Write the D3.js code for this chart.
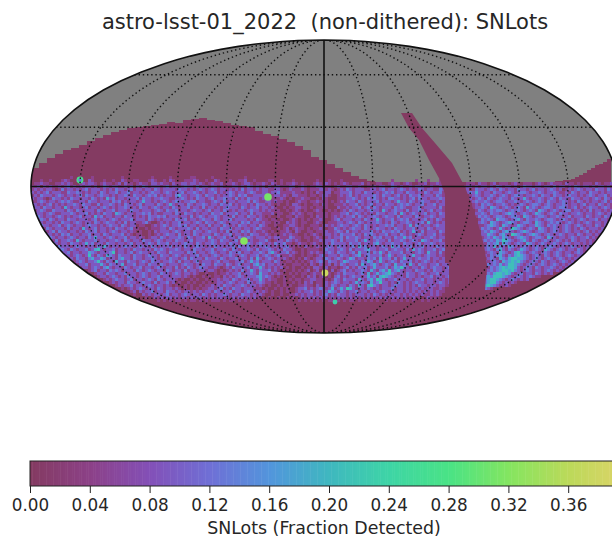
<!DOCTYPE html>
<html>
<head>
<meta charset="utf-8">
<script src="https://cdnjs.cloudflare.com/ajax/libs/d3/7.8.5/d3.min.js"></script>
<style>
  html, body { margin: 0; padding: 0; background: #fff; overflow: hidden; }
  text { font-family: "DejaVu Sans", sans-serif; fill: #262626; }
</style>
</head>
<body>
<svg id="skymap" width="612" height="538"></svg>
<script>
// colour bar
let barStops = [0, 0.04, 0.08, 0.12, 0.16, 0.20, 0.24, 0.28, 0.32, 0.36, 0.40];
let barColors = ["#843b62", "#8c4188", "#8350b8", "#6f70d6", "#5296dc", "#3fb8bf", "#3ed5a5", "#4ae385", "#85e560", "#bcd95a", "#e0d36a"];
let barTicks = [0, 0.04, 0.08, 0.12, 0.16, 0.20, 0.24, 0.28, 0.32, 0.36];

// fraction detected for each digit used in the rows below
let levelValues = [0, 0.045, 0.09, 0.13, 0.175, 0.21];

// top edge of the observed footprint, in grid cols / rows
let northCols = [0, 2, 4, 6, 8, 10, 12, 14, 16, 18, 20, 22, 24, 26, 28, 30, 32, 34, 36, 38, 40, 42, 44, 46, 48, 50, 52, 54, 56, 58, 60, 62, 64, 66, 68, 70, 72, 74, 76, 78, 80, 82, 84, 86, 131, 133, 135, 136, 137, 138, 139, 140, 141, 142, 143, 144, 145];
let northRows = [-2, -3.25, -4.5, -5.5, -6.5, -7, -7.75, -8.75, -9.5, -10.25, -11, -11.5, -12, -12.25, -12.5, -12.75, -13, -13.5, -13.25, -14, -14.25, -14.5, -14, -13.75, -13.25, -12.75, -12.5, -12.25, -11.25, -10.5, -10, -9.25, -8.5, -7.5, -6.5, -4.75, -4, -3, -2, -1, 0, 0.75, 1.25, 1.5, 1.25, 1, 0.75, 0.25, -0.25, -0.75, -1.5, -2, -2.75, -3, -3.5, -4.25, -4.5];

// galactic plane wedge, left side going down then right side going up
let planeCols = [92.5, 94.5, 97, 99.5, 102.25, 104, 104.75, 104.5, 104.5, 104.5, 104.5, 113.5, 113.5, 114, 113.25, 111.5, 109.75, 108.5, 105.25, 101, 97.75, 95.25];
let planeRows = [-15.75, -12, -9, -4, 1, 6, 11, 17.25, 22.25, 28.5, 31.25, 31.25, 28.5, 22.25, 17.25, 11, 6, 2.75, -3.25, -8.25, -12, -15.75];

// the few bright fields
let spotCols = [12.25, 59.25, 53.25, 73.5, 76];
let spotRows = [1, 5.25, 16.25, 24.25, 31.5];
let spotValues = [0.27, 0.31, 0.32, 0.38, 0.23];
let spotCores = [0.14, 0.31, 0.32, 0.38, 0.23];
let spotSizes = [2.6, 3, 3, 2.6, 1.6];

// per-cell levels, west of the plane
let westRows = [
"000000000000010000001000000000100000000010000010000001100000100000000001000000000000000000000000000000000000000000000000000000000000000000",
"000100100012100110021000100100210011000121001021000111210010021000100112001000011001000100000001000100010000000000000000100000001000100010",
"011211001121210012122101211012021101211022121102112212212101211201121012210112102101011210100012102101012101112010011001211012100112011210",
"112021211212312121221201321221121202132122212312212322131221221211122121321212021221112201210112211101211221121011212211321211212221121121",
"121212210131221212312221212132212312212213212222132212123212321221212131221212211221012111210111221210121321222112212312212321211321221132",
"212123122211322321212213212231223122121232212321223122321212231212321221232112212231111211010102112201122231221322121232312213221213212231",
"121322212321221231322123221212232132212323121221342212232132212122321323112222131221210221110110122100121231212222321322123121322312221321",
"212210132212132212213212142312212223132212232211223212132212312232213121322212231112101011211001021000111223212132321213322121231322122232",
"112321221232321122132212221323121221242212123212321223312211232131221222313211221211010012110112111010121322132122231222124221321232211212",
"221212312121223213221131223212132212312221321242122132122321221322312122121322121010010221010011021001112122312123122132212323212231223122",
"122132212214212212312212321212232121322123212213212231221312212123222132122312212100101122110101111000211212231231321222132321122312222131",
"212321132221321321222132122312221322122212321322312212322123122132121221232212121110010121010012100101012132122123221421232213122321231221",
"122212321122232122312121322143212212232312112221321322121221322312223122131221112011001212101101111011122312321212132212231421232123122132",
"213212212321212231221423122122132212121322323122212213123212232122131221322121010010011021100102111012121223132122321232213122213212232122",
"122321321221322122212312212321222312221321212221322312212322132122312222121321101101001210101011210012312221221321242122312323122123121321",
"231212212132212321221321232212131221123100121212231221232132212321222132312212110110021210110012100111221232132122232121321223212231421212",
"121322122312321221232212123221321220110012123212232312212213122132121322122132100100112210100111012121232212321321212232312212413212212322",
"212213212221312214212312212132212311001011122132122232131221221322312212212321110010120121101011210113212123221321232212132212231221321222",
"321221231322122121322312212321221210100102122212321221322123221213122132312112101001121021001101112112321312212223121322323121242131222132",
"122312212132312212231221321222312101100101212322131221321222132122312212132211210101212110010121012212132223121323212231221321212321223121",
"000212321221232122132422123212231221210122132122232132122314212231221322321222121221113211011012101212231322321221323122132242312212232122",
"000012213122321421222312212232132122132212321221322123122212321322123123121122310122132121001011212232131222312421232213122321232143212231",
"000001232122132212423122132212212312212321322312212322132122321221322121321232121322311012110121012132222132231221342122322132212312232122",
"000000211322212322122132421221232212322132122231221321232212132212231322312122321212231101021012112321322123142312212321423122312231221322",
"000000012232132122312452122312212132212213232122321221322122312232132122321312232121322100101111013221232131222342212231232213142321223123",
"000000000122312212243212223512212312322121322132222132312212321221322312212232134212231210101212112321322123142231324213222312212321422131",
"000000000012212321252132143213222132212322132212321212231221232122321232122312321231112100101101231222132212341232223124212231242212322121",
"000000000000121322134224312213422132212232122132212313222132221321223122131421232121210101021012213212321243122132314223131242212322312212",
"000000000000021232122352132142213221232132212232131221231222123122112231242312221321011010101212321322124322213243124212321322312123212122",
"00000000000000012231222421322241223122132213212221232212132213221321231221342312212110011101021021120213212231422342123214223142132212231221212",
"00000000000000001221232134212213212231221232122131213212322112101213222231224212121201010010102210201101231213231242223124353212213212322123122",
"00000000000000000001231221323212221321232122132122131221221221010121213124213223121010010101201201102012312122321421342523421221322121322122121",
"00000000000000000000012213221223122123212213221232122121001001011212231223214221212100101011012110210121322212314124234532121322123212231222121",
"00000000000000000000001221232121322123212231221222121010010101102121232122234232101010010010212012010231212322124231454321221322121223122123211",
"00000000000000000000000012123221231221232132122210100101001011212213212231224212110010101101122110101321322214213425421223122121223122121212211",
"00000000000000000000000000121221322123221312231201001010010101221232122132123211010010010102120110212321221242321423522121321212322122123212121",
"00000000000000000000000000001212231221232122121010010100101121213221223212212101001010100112110210213212213214214532122123221212132212212211212",
"000000000000000000000000000000101212321221321221210101010112212312132212221110100101010012231212321241242542122132121222312212122121221121",
"000000000000000000000000000000000120212231221322121221212122132122312212321212101001010012122312122432132122312212212321212212121212121211",
"000000000000000000000000000000000010021212212312212321221321212232122132212121001001001121212212123121322121222121321212122121212121121210",
"000000000000000000000000000000000000001012121221212212122121212212121221212110010010010101212121212121222121212121212121212121121101211100",
"000000000000000000000000000000000000000000101010110101101010111010110101010000000000000001010101010110101011010101010010110101010010100000"
];

// per-cell levels, east of the plane
let eastRows = [
"",
"",
"01110211012011101210111012101211102110101110210112",
"12212122121321221201322122122131221213212212122121",
"12013221232132122132212312212321201212321221322132",
"12324212213221232123321223212232112132122132212122",
"10123212232123212332122321322132212322121232122312",
"00212321321232213212421223212321322132212212321321",
"00123223212332122321232123213221232121321212212312",
"00012132321223212123212332123212232122123122132121",
"00012232143212321232142321233212332123121232212321",
"00001321232332123232123214321232123312212131221212",
"00002232132212343212321243212321322122321221232122",
"00001323212332123321432123321223212312221321221321",
"00000132321433212342132232123321232121232122312212",
"00000232143212343212332143212323212321212321221211",
"00000112343214321243212243213232123212321221321210",
"00000132321242125432123214321232123212132122212121",
"00000023243213432123432123321232123212212312122112",
"00000022432134215432123432123212321221321221212101",
"00000012324324321234321233214321221232122312121212",
"00000023232435432123421321232123212132122121212101",
"00000021323414321232143212321232123212212121210",
"00000002324132143212321232123321221232121221221",
"00000012321342132124321232143212321221321212121",
"00000001232143212453212321232123212212321211212",
"00000002132342132454321232132123212321221212121",
"00000001232143245544321232123212321212212121",
"00000002123214345453212321321221232121221211",
"0000000132324235543212321232123212121211",
"00000002132345455421232132122321212111",
"0000000123234554532123212212321212",
"000000213245545421231221321212",
"00000023435554321232123211",
"0000002345543212321212",
"000000134553212121",
"0000013454321121",
"0000024321",
"00012",
"",
"",
""
];

let svg = d3.select("svg#skymap");

// mollweide, d3 core has no such projection so the raw function lives here
function mollweideRaw(lambda, phi) {
  let theta = phi;
  for (let i = 0; i < 30; i++) {
    let delta = (2 * theta + Math.sin(2 * theta) - Math.PI * Math.sin(phi)) / (2 + 2 * Math.cos(2 * theta));
    if (!isFinite(delta)) break;
    theta = theta - delta;
    if (Math.abs(delta) < 1e-7) break;
  }
  return [2 * Math.SQRT2 / Math.PI * lambda * Math.cos(theta), Math.SQRT2 * Math.sin(theta)];
}
let projection = d3.geoProjection(mollweideRaw).scale(103.6).translate([324, 186.5]).precision(0.2);
let geoPath = d3.geoPath(projection);

// outlines are in 4px grid units, the cell rows are on a 3px grid
let gridX = d3.scaleLinear().domain([0, 145]).range([31, 611]);
let gridY = d3.scaleLinear().domain([0, 31]).range([176, 300]);
let cellX = d3.scaleLinear().domain([0, 145]).range([31, 466]);
let cellY = d3.scaleLinear().domain([0, 42]).range([176, 302]);
let colorScale = d3.scaleLinear().domain(barStops).range(barColors);

let defs = svg.append("defs");
defs.append("clipPath").attr("id", "skyClip").append("path").attr("d", geoPath({ type: "Sphere" }));
defs.append("filter").attr("id", "soft").attr("filterUnits", "userSpaceOnUse")
  .attr("x", 0).attr("y", 0).attr("width", 640).attr("height", 400)
  .append("feGaussianBlur").attr("stdDeviation", 0.6);

let sky = svg.append("g").attr("clip-path", "url(#skyClip)");
let cells = sky.append("g").attr("filter", "url(#soft)");

cells.append("path").attr("d", geoPath({ type: "Sphere" })).attr("fill", "#808080");

// everything under the north edge starts out as zero
let footprint = d3.area().curve(d3.curveStepAfter)
  .x(function(d) { return gridX(d); })
  .y0(gridY(60))
  .y1(function(d, i) { return gridY(northRows[i]); });
cells.append("path").datum(northCols).attr("d", footprint).attr("fill", colorScale(0));

function drawRows(rows, startCol) {
  rows.forEach(function(row, r) {
    row.split("").forEach(function(ch, c) {
      if (ch === "0") return;
      cells.append("rect")
        .attr("x", cellX(startCol + c))
        .attr("y", cellY(r))
        .attr("width", cellX(1) - cellX(0))
        .attr("height", cellY(1) - cellY(0))
        .attr("shape-rendering", "crispEdges")
        .attr("fill", colorScale(levelValues[+ch]));
    });
  });
}
drawRows(westRows, 0);
drawRows(eastRows, 144);

// plane goes on top so its edges stay clean
let planeLine = d3.line()
  .x(function(d) { return gridX(d); })
  .y(function(d, i) { return gridY(planeRows[i]); });
cells.append("path").datum(planeCols).attr("d", planeLine(planeCols) + "Z").attr("fill", colorScale(0));

cells.selectAll("circle.spot").data(spotCols).enter().append("circle")
  .attr("class", "spot")
  .attr("cx", function(d) { return gridX(d); })
  .attr("cy", function(d, i) { return gridY(spotRows[i]); })
  .attr("r", function(d, i) { return spotSizes[i]; })
  .attr("fill", function(d, i) { return colorScale(spotCores[i]); })
  .attr("stroke", function(d, i) { return colorScale(spotValues[i]); })
  .attr("stroke-width", 1.6);

// graticule
let dotted = d3.geoGraticule().extentMajor([[-180, -90], [180, 90]]).extentMinor([[-180, -90], [180, 90]]).step([30, 30]);
let dottedLines = dotted.lines().filter(function(l) {
  let c = l.coordinates;
  let isMeridian = c[0][0] === c[1][0];
  if (isMeridian) return c[0][0] !== 0 && Math.abs(c[0][0]) !== 180;
  return c[0][1] !== 0 && Math.abs(c[0][1]) !== 90;
});
sky.selectAll("path.grid").data(dottedLines).enter().append("path")
  .attr("class", "grid")
  .attr("d", geoPath)
  .attr("fill", "none")
  .attr("stroke", "#111")
  .attr("stroke-width", 1.4)
  .attr("stroke-dasharray", "1.4 2.8");

sky.append("path")
  .attr("d", geoPath({ type: "MultiLineString", coordinates: [
    [[0, -90], [0, -45], [0, 0], [0, 45], [0, 90]],
    [[-179.99, 0], [-90, 0], [0, 0], [90, 0], [179.99, 0]]
  ] }))
  .attr("fill", "none").attr("stroke", "#111").attr("stroke-width", 1.6);

svg.append("path").attr("d", geoPath({ type: "Sphere" }))
  .attr("fill", "none").attr("stroke", "#111").attr("stroke-width", 1.6);

svg.append("text").attr("x", 325).attr("y", 29).attr("text-anchor", "middle")
  .style("font-size", "21px").style("white-space", "pre")
  .text("astro-lsst-01_2022  (non-dithered): SNLots");

// colour bar
let barScale = d3.scaleLinear().domain([0, 0.40]).range([30, 628]);
let barSteps = d3.range(0, 0.4, 0.4 / 256);
let bar = svg.append("g");
bar.selectAll("rect").data(barSteps).enter().append("rect")
  .attr("x", function(d) { return barScale(d); })
  .attr("y", 461)
  .attr("width", barScale(0.4 / 256) - barScale(0) + 0.5)
  .attr("height", 25)
  .attr("fill", function(d) { return colorScale(d); });
bar.append("rect").attr("x", 30).attr("y", 461).attr("width", 598).attr("height", 25)
  .attr("fill", "none").attr("stroke", "#222").attr("stroke-width", 1);

let barAxis = d3.axisBottom(barScale).tickValues(barTicks).tickFormat(d3.format(".2f")).tickSize(7).tickPadding(6);
let axisG = svg.append("g").attr("transform", "translate(0,486)").call(barAxis);
axisG.select(".domain").remove();
axisG.selectAll("text").style("font-size", "16.8px").style("font-family", '"DejaVu Sans", sans-serif').attr("fill", "#262626");
axisG.selectAll("line").attr("stroke", "#222");

svg.append("text").attr("x", 324).attr("y", 534).attr("text-anchor", "middle")
  .style("font-size", "17.4px").text("SNLots (Fraction Detected)");
</script>
</body>
</html>
